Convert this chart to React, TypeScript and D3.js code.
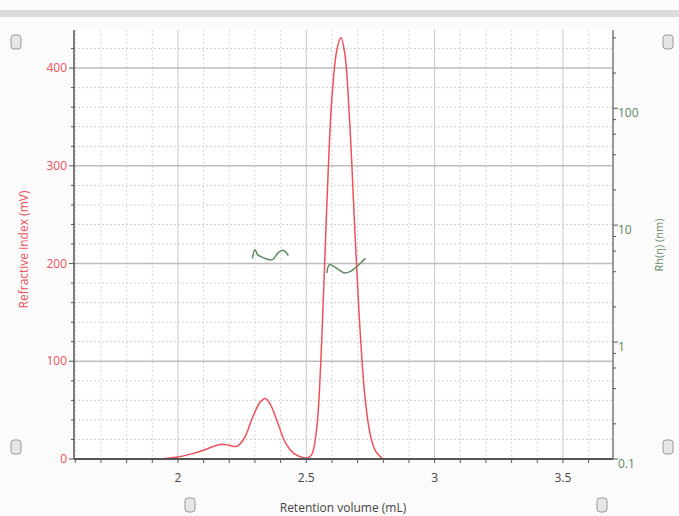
import * as React from 'react'
import * as d3 from 'd3'

const width = 679
const height = 516
const plot = { left: 74, right: 613, top: 30, bottom: 459 }
const red = '#f0505a'
const green = '#5f8a5f'

const xTicks = [2, 2.5, 3, 3.5]
const yTicks = [0, 100, 200, 300, 400]
const rhTicks = [0.1, 1, 10, 100]

// refractive index trace (mL, mV)
const riVol = [1.9, 1.95, 2.0, 2.05, 2.1, 2.14, 2.17, 2.2, 2.23, 2.26, 2.29, 2.32, 2.34, 2.36, 2.39, 2.42, 2.45, 2.48, 2.5, 2.52, 2.54, 2.56, 2.58, 2.6, 2.62, 2.635, 2.65, 2.67, 2.69, 2.71, 2.73, 2.75, 2.77, 2.79, 2.8]
const riVal = [0, 0.5, 2, 5, 9, 13, 15, 14, 13, 22, 42, 58, 62, 56, 36, 16, 6, 2, 1, 4, 30, 120, 260, 370, 420, 431, 415, 340, 230, 130, 60, 24, 8, 2, 0]

// Rh segments (mL, nm)
const rh1Vol = [2.29, 2.3, 2.31, 2.33, 2.35, 2.37, 2.39, 2.41, 2.43]
const rh1Val = [5.2, 6.2, 5.6, 5.3, 5.1, 5.1, 5.8, 6.1, 5.5]
const rh2Vol = [2.58, 2.59, 2.61, 2.63, 2.65, 2.67, 2.69, 2.71, 2.73]
const rh2Val = [3.9, 4.6, 4.4, 4.1, 3.9, 4.0, 4.3, 4.7, 5.2]

const handles = [[16, 42], [668, 42], [16, 447], [668, 447], [190, 505], [602, 505]]

const App = () => {
  const x = d3.scaleLinear().domain([1.595, 3.695]).range([plot.left, plot.right])
  const y = d3.scaleLinear().domain([0, 439]).range([plot.bottom, plot.top])
  const yr = d3.scaleLog().domain([0.1, 467]).range([plot.bottom, plot.top])

  const riLine = d3.line<number>().x((_, i) => x(riVol[i])).y(d => y(d)).curve(d3.curveCatmullRom)
  const rhLine = (vol: number[]) =>
    d3.line<number>().x((_, i) => x(vol[i])).y(d => yr(d)).curve(d3.curveCatmullRom)

  const minorX = d3.range(1.6, 3.7, 0.1).filter(v => !xTicks.some(t => Math.abs(t - v) < 1e-6))
  const minorY = d3.range(20, 440, 20).filter(v => v % 100 !== 0)
  const minorR: number[] = []
  for (const dec of [0.1, 1, 10, 100]) for (let k = 2; k <= 9; k += 2) if (dec * k < 467) minorR.push(dec * k)

  const font = 'Segoe UI, "Open Sans", sans-serif'

  return (
    <svg width={width} height={height} style={{ position: 'absolute', left: 0, top: 0 }} fontFamily={font}>
      <rect width={width} height={height} fill="#fbfbfb" />
      <rect x={0} y={10} width={width} height={7} fill="#dcdcdc" />
      <rect x={plot.left} y={plot.top} width={plot.right - plot.left} height={plot.bottom - plot.top} fill="#fff" />
      {minorX.map(v => (
        <line key={'mx' + v} x1={x(v)} x2={x(v)} y1={plot.top} y2={plot.bottom} stroke="#d8d8d8" strokeDasharray="2,2" />
      ))}
      {minorY.map(v => (
        <line key={'my' + v} x1={plot.left} x2={plot.right} y1={y(v)} y2={y(v)} stroke="#d0d0d0" strokeDasharray="2,2" />
      ))}
      {xTicks.map(v => (
        <line key={'gx' + v} x1={x(v)} x2={x(v)} y1={plot.top} y2={plot.bottom} stroke="#c8c8c8" />
      ))}
      {yTicks.slice(1).map(v => (
        <line key={'gy' + v} x1={plot.left} x2={plot.right} y1={y(v)} y2={y(v)} stroke="#bdbdbd" strokeWidth={1.5} />
      ))}
      <path d={riLine(riVal) || ''} fill="none" stroke={red} strokeWidth={1.5} />
      <path d={rhLine(rh1Vol)(rh1Val) || ''} fill="none" stroke={green} strokeWidth={1.5} />
      <path d={rhLine(rh2Vol)(rh2Val) || ''} fill="none" stroke={green} strokeWidth={1.5} />
      {/* axes */}
      <line x1={plot.left} x2={plot.left} y1={plot.top} y2={plot.bottom} stroke="#555" strokeWidth={1.5} />
      <line x1={plot.right} x2={plot.right} y1={plot.top} y2={plot.bottom} stroke="#777" strokeWidth={1.5} />
      <line x1={plot.left} x2={plot.right} y1={plot.bottom} y2={plot.bottom} stroke="#555" strokeWidth={2} />
      {minorY.map(v => (
        <line key={'ty' + v} x1={plot.left - 3} x2={plot.left} y1={y(v)} y2={y(v)} stroke="#555" />
      ))}
      {yTicks.map(v => (
        <g key={'ly' + v}>
          <line x1={plot.left - 5} x2={plot.left} y1={y(v)} y2={y(v)} stroke="#555" />
          <text x={plot.left - 7} y={y(v) + 4} textAnchor="end" fontSize={12} fill={red}>{v}</text>
        </g>
      ))}
      {d3.range(1.6, 3.7, 0.1).map(v => (
        <line key={'tx' + v} x1={x(v)} x2={x(v)} y1={plot.bottom} y2={plot.bottom + 4} stroke="#555" />
      ))}
      {xTicks.map(v => (
        <text key={'lx' + v} x={x(v)} y={plot.bottom + 23} textAnchor="middle" fontSize={12} fill="#444">{v}</text>
      ))}
      {minorR.map(v => (
        <line key={'tr' + v} x1={plot.right} x2={plot.right + 3} y1={yr(v)} y2={yr(v)} stroke="#555" />
      ))}
      {rhTicks.map(v => (
        <g key={'lr' + v}>
          <line x1={plot.right} x2={plot.right + 5} y1={yr(v)} y2={yr(v)} stroke="#555" />
          <text x={plot.right + 5} y={yr(v) + 9} fontSize={12} fill={green}>{v}</text>
        </g>
      ))}
      <text transform={`translate(28, ${(plot.top + plot.bottom) / 2 + 5}) rotate(-90)`} textAnchor="middle" fontSize={12} fill={red}>
        Refractive index (mV)
      </text>
      <text transform={`translate(663, 245) rotate(-90)`} textAnchor="middle" fontSize={11} fill={green}>
        Rh(η)  (nm)
      </text>
      <text x={343} y={512} textAnchor="middle" fontSize={12} fill="#444">Retention volume (mL)</text>
      {handles.map(([hx, hy], i) => (
        <rect key={i} x={hx - 5} y={hy - 7} width={10} height={14} rx={3} fill="#e6e6e6" stroke="#999" />
      ))}
    </svg>
  )
}

export default App
